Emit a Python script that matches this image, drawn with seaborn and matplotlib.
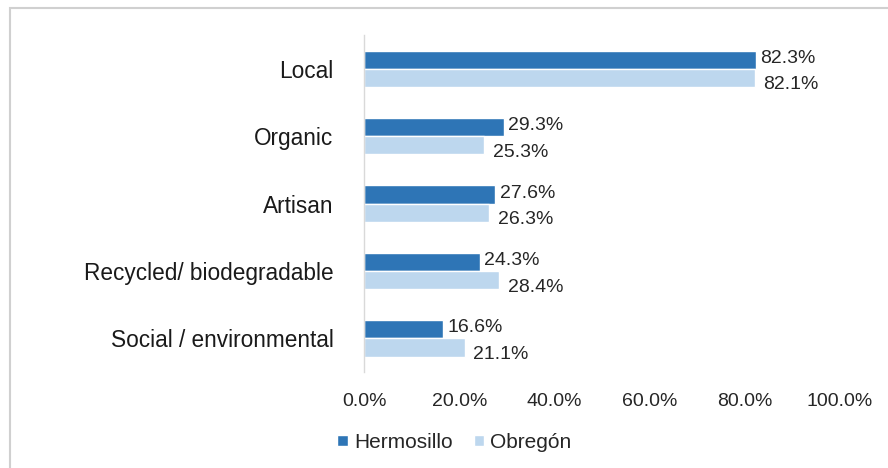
import pandas as pd
import matplotlib.pyplot as plt
import seaborn as sns
from matplotlib.patches import Rectangle

# Chart data
categories = ['Local', 'Organic', 'Artisan', 'Recycled/ biodegradable', 'Social / environmental']
hermosillo = [82.3, 29.3, 27.6, 24.3, 16.6]
obregon = [82.1, 25.3, 26.3, 28.4, 21.1]
series = ['Hermosillo', 'Obregón']
x_ticks = [0, 20, 40, 60, 80, 100]

df = pd.DataFrame({
    'Category': categories * 2,
    'City': [series[0]] * len(categories) + [series[1]] * len(categories),
    'Value': hermosillo + obregon,
})

sns.set_theme(style='white')
plt.rcParams['font.family'] = ['Liberation Sans', 'DejaVu Sans']

fig = plt.figure(figsize=(8.88, 4.68), dpi=100)
ax = fig.add_axes([0.41, 0.205, 0.536, 0.72])

palette = {'Hermosillo': '#2E75B6', 'Obregón': '#BDD7EE'}
sns.barplot(data=df, y='Category', x='Value', hue='City', palette=palette,
            order=categories, hue_order=series, width=0.54, orient='h',
            saturation=1, ax=ax)

# value labels
for cont, dy, dx in zip(ax.containers, [-1, 5], [3, 6]):
    for bar in cont:
        v = bar.get_width()
        ax.annotate(f'{v:.1f}%', (v, bar.get_y() + bar.get_height() / 2),
                    xytext=(dx, -dy), textcoords='offset points',
                    va='center', ha='left', fontsize=14, color='#262626')

ax.set_xlim(0, 100)
ax.set_xticks(x_ticks)
ax.set_xticklabels([f'{t:.1f}%' for t in x_ticks], fontsize=14, color='#262626')
ax.tick_params(axis='y', labelsize=16.3, labelcolor='#1a1a1a', pad=22, length=0)
ax.tick_params(axis='x', pad=15, length=0)
ax.set_xlabel('')
ax.set_ylabel('')
for s in ['top', 'right', 'bottom']:
    ax.spines[s].set_visible(False)
ax.spines['left'].set_color('#d9d9d9')
ax.spines['left'].set_linewidth(1)

leg = ax.legend(loc='upper center', bbox_to_anchor=(0.19, -0.125), ncol=2,
                frameon=False, fontsize=15, handlelength=0.5, handleheight=0.5,
                columnspacing=1.0, handletextpad=0.3)

# outer frame
fig.patches.append(Rectangle((0.011, -0.1), 1.2, 1.083, transform=fig.transFigure,
                             fill=False, edgecolor='#d0d0d0', linewidth=1.5))

plt.savefig('out.png', dpi=100)
